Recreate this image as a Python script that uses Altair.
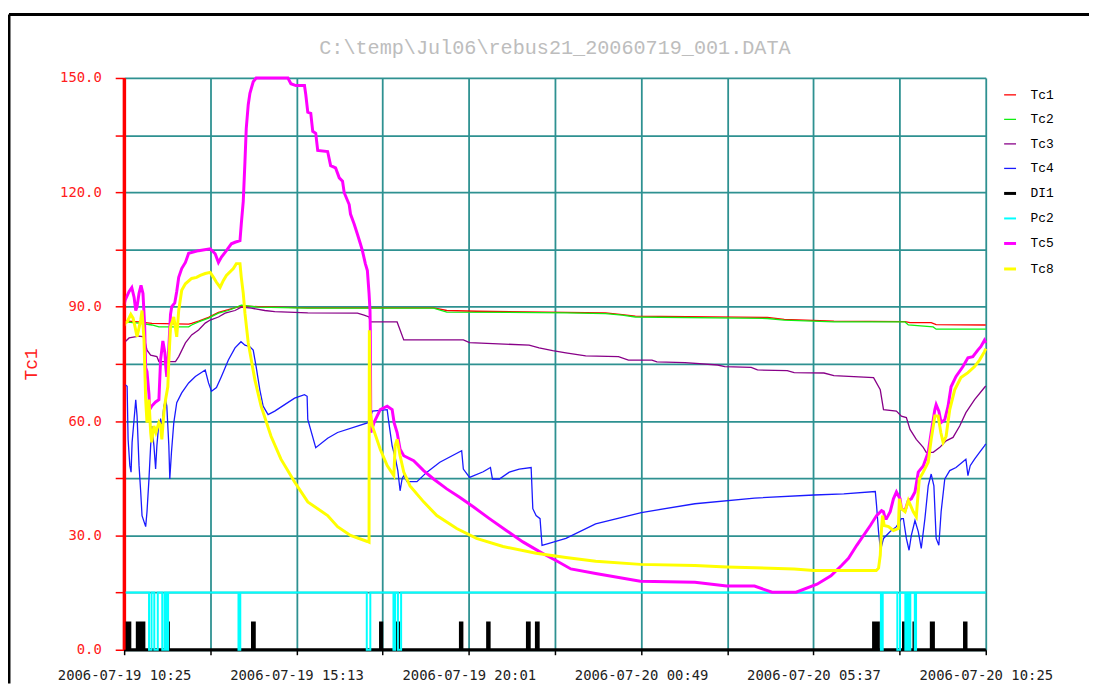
import json
import altair as alt
import pandas as pd

TITLE = "C:\\temp\\Jul06\\rebus21_20060719_001.DATA"
SERIES = ["Tc1", "Tc2", "Tc3", "Tc4", "DI1", "Pc2", "Tc5", "Tc8"]
COLORS = ["#ff0000", "#11ee11", "#880088", "#1a1aff", "#000000", "#00ffff", "#ff00ff", "#ffff00"]
WIDTHS = [1.3, 1.3, 1.3, 1.3, 3.0, 2.0, 3.0, 3.0]

# x: minutes after 2006-07-19 10:25
X_TICKS = list(range(0, 1441, 144))
X_LABELS = ["2006-07-19 10:25", "", "2006-07-19 15:13", "", "2006-07-19 20:01", "",
            "2006-07-20 00:49", "", "2006-07-20 05:37", "", "2006-07-20 10:25"]
Y_TICKS = list(range(0, 151, 15))

TC1 = [(0, 86.3), (24.9, 86), (46.5, 85.6), (107.8, 85.4), (112.8, 85.6), (124.4, 86.2), (141, 87.2),
       (157.6, 88.5), (174.2, 89.2), (195.8, 90.2), (224, 90), (306.9, 89.7), (517.1, 89.7), (539.2, 89),
       (589, 88.8), (738.3, 88.5), (804.6, 88.4), (832.3, 87.9), (854.4, 87.5), (1075, 87.2), (1103.2, 86.7),
       (1186.2, 86.2), (1305.1, 86.1), (1313.4, 85.8), (1348.8, 85.8), (1357.1, 85.3), (1440, 85.2)]

TC2 = [(0, 86), (24.9, 85.7), (46.5, 85.2), (58.1, 84.7), (107.8, 84.7), (112.8, 85.2), (124.4, 86), (141, 87),
       (157.6, 88.3), (174.2, 89), (195.8, 90.4), (224, 89.9), (306.9, 89.6), (517.1, 89.6), (539.2, 88.6),
       (738.3, 88.4), (804.6, 88.2), (832.3, 87.8), (854.4, 87.3), (1075, 86.9), (1103.2, 86.5), (1186.2, 86),
       (1305.1, 86), (1310.6, 85.2), (1352.1, 84.7), (1357.1, 84.1), (1440, 84.1)]

TC3 = [(0, 80.5), (1.7, 80.8), (8.3, 81.8), (24.9, 82.3), (33.2, 82.1), (38.2, 78.6), (44.3, 77.3), (54.7, 76.9),
       (58.1, 75.6), (85.8, 75.6), (91.2, 76.9), (102.4, 80.5), (112.8, 82.6), (124.4, 83.9), (135.5, 85.7),
       (143.8, 86.5), (157.6, 87.3), (168.7, 88.3), (185.3, 89), (195.8, 89.9), (212.4, 89.6), (235.1, 89),
       (251.7, 88.7), (306.9, 88.4), (389.9, 88.3), (401, 87.8), (409.3, 87.3), (411.4, 86), (456.2, 86),
       (467.3, 81.3), (566.9, 81.3), (577.3, 80.6), (676.9, 79.9), (693.5, 79.2), (716.2, 78.5), (738.3, 77.9),
       (771.4, 77.1), (826.2, 76.9), (842.8, 76), (882.1, 76), (890.4, 75.5), (937.3, 75.3), (992.1, 74.7),
       (1003.7, 74.3), (1048, 74.1), (1058.4, 73.4), (1108.2, 73.2), (1119.8, 72.7), (1169.6, 72.6),
       (1186.2, 71.9), (1252.5, 71.4), (1263.7, 68.2), (1269.1, 63), (1290.7, 62.6), (1299, 61.3),
       (1307.3, 60.9), (1313.4, 57.8), (1323.9, 55.2), (1335.5, 53.1), (1340.5, 51.8), (1352.1, 51.8),
       (1363.2, 53.1), (1373.7, 54.8), (1385.3, 55.7), (1396.4, 58.7), (1406.8, 62.2), (1421.3, 65.6),
       (1437.8, 68.8), (1440, 69.2)]

TC4 = [(0, 69), (1.7, 69.5), (5, 69.1), (6.6, 55.2), (9.5, 48.3), (11.6, 46.6), (13.3, 54.4), (16.6, 60.4),
       (19.4, 65.6), (21.6, 61.3), (24.9, 48.3), (27.7, 41.4), (29.9, 35.2), (33.2, 33.6), (36, 32.3),
       (38.2, 36.2), (41.5, 44.8), (44.3, 53.5), (46.5, 58.7), (49.8, 53.5), (52.6, 47.4), (54.7, 53.5),
       (58.1, 59.6), (60.9, 60.4), (63, 58.7), (66.4, 63.9), (69.2, 65.6), (71.3, 63.9), (74.7, 53.5),
       (76.3, 44.8), (79.1, 51.8), (83, 59.6), (87.9, 64.8), (96.2, 67.4), (107.8, 70), (119, 71.7),
       (135.5, 73.4), (141, 70), (146, 67.8), (154.3, 68.8), (162.6, 71.7), (174.2, 76), (185.3, 79.2),
       (195.3, 80.8), (201.9, 79.9), (210.2, 79.5), (215.7, 78.6), (220.6, 74.3), (226.8, 68.2), (232.3, 63.9),
       (240.6, 61.7), (251.7, 62.6), (268.3, 64.3), (284.9, 66), (301.4, 66.9), (305.8, 66.5), (306.9, 60.4),
       (320.2, 53), (340.1, 55.5), (356.7, 57), (406.5, 59.5), (411.4, 60.9), (414.8, 62.6), (439.6, 63),
       (442.4, 59.6), (447.9, 53.5), (452.9, 50.5), (457.4, 47), (461.2, 41.7), (464.5, 44.8), (467.3, 45.7),
       (472.8, 44.1), (489.4, 44.1), (506, 46.6), (527.6, 49.2), (564.1, 52.2), (566.9, 47.4), (577.3, 45.2),
       (600.1, 46.7), (612.2, 47.8), (615.5, 44.8), (627.1, 44.8), (643.7, 46.6), (660.3, 47.4), (680.2, 47.8),
       (683, 37), (688.5, 35.2), (695.1, 34.4), (698.4, 27.4), (710.1, 27.9), (738.3, 29.2), (788, 33),
       (864.3, 36), (953.9, 38.3), (1053.5, 39.8), (1153, 40.6), (1202.8, 40.9), (1255.4, 41.5), (1257.5, 37.8),
       (1260.8, 31), (1264.1, 26.1), (1269.1, 29.2), (1280.3, 31), (1290.7, 32.3), (1299, 34.4), (1302.3, 34.4),
       (1307.3, 29.2), (1311.8, 26.1), (1315.6, 30), (1321.7, 33.9), (1327.2, 31), (1332.2, 26.6),
       (1338.3, 34.4), (1343.8, 43), (1348.8, 46.1), (1353.3, 43), (1357.1, 29.2), (1361.6, 27.4),
       (1365.4, 36.2), (1371.5, 44.8), (1379.8, 47), (1390.3, 47.8), (1406.8, 50), (1410.2, 45.7), (1414, 48.3),
       (1421.3, 50), (1429.6, 51.8), (1437.8, 53.5), (1440, 54)]

DI1_HIGH = 7
DI1_PULSES = [(2.5, 4.5), (7, 9.5), (22, 25), (28, 33), (71.5, 74), (214.5, 217.5), (428.5, 430.5),
              (455.5, 458.5), (562, 564.5), (607.5, 610), (674, 677), (689, 692), (1252.5, 1254.5),
              (1258, 1260.5), (1302.5, 1305.5), (1320, 1322.5), (1349, 1352.5), (1404.5, 1407)]

PC2_HIGH = 15
PC2_DIPS = [(41.6, 45.8), (50.4, 56.2), (63.7, 67.7), (70.7, 73.5), (191.1, 194.1), (405.5, 411.4),
            (450.1, 452.9), (457.6, 462.9), (1264.8, 1267.8), (1292.2, 1296.7), (1305.6, 1308.3),
            (1311.4, 1313.9), (1321.4, 1323.5)]

TC5 = [(0, 90.5), (1.7, 91.7), (8.3, 94), (12.8, 95), (16.6, 92.5), (19.4, 89), (21.6, 90), (24.9, 93.5),
       (28.2, 95.6), (31.5, 93.5), (34.3, 85), (36, 74), (38.2, 73), (41.5, 67), (42.6, 63), (46.5, 64),
       (52.6, 65), (58.1, 65.6), (60.9, 76), (64.7, 81), (68, 78), (69.7, 74), (71.3, 71.6), (74.7, 79.4),
       (77.5, 88), (79.6, 90), (84.6, 91), (87.9, 94), (91.2, 97.7), (96.2, 100), (102.4, 101.6), (107.8, 104),
       (124.4, 104.7), (143.8, 105.2), (152.1, 103.9), (157.6, 101.6), (162.6, 103), (170.9, 104.7),
       (179.2, 106.5), (185.3, 106.9), (193.6, 107.3), (195.8, 111.7), (199.1, 117.7), (201.9, 128),
       (204.1, 136.8), (207.4, 143), (210.2, 146), (215.7, 149), (220.6, 150), (273.7, 150), (278.7, 148.5),
       (287, 148), (301.4, 148), (303.6, 145.6), (306.9, 141), (311.9, 140.7), (315.2, 136), (320.2, 135.5),
       (323.5, 131), (340.1, 130.7), (345.1, 127), (353.4, 126.4), (359.5, 123.8), (365, 122.9),
       (367.8, 119.9), (376.1, 116.8), (378.3, 114.3), (384.4, 111.7), (389.9, 109), (394.8, 106.5),
       (398.2, 104.7), (403.1, 101.3), (406.5, 99.5), (409.3, 93.5), (410.9, 89), (411.4, 83.8), (412.3, 57),
       (417.6, 59.6), (428, 63), (439.6, 63.9), (447.9, 63), (451.2, 59.6), (456.2, 57), (461.2, 52.6),
       (467.3, 50.9), (483.9, 49.6), (500.5, 47), (517.1, 44.8), (539.2, 42.2), (560.7, 40), (583.5, 37.5),
       (610.5, 34.4), (638.7, 31.3), (666.4, 28.3), (693.5, 25.8), (705.1, 24.8), (721.7, 23.4),
       (746.6, 21.2), (788, 20), (862.7, 18), (953.9, 17.7), (1007, 16.7), (1053.5, 16.7), (1082.8, 15.1),
       (1123.1, 15.1), (1158, 17.2), (1181.2, 19.4), (1199, 22.1), (1210.6, 24), (1224.4, 27.4),
       (1247.1, 32.6), (1257.5, 35.2), (1265.8, 36.5), (1269.1, 36.2), (1272, 34.4), (1274.1, 34.4),
       (1280.3, 36.2), (1285.7, 39.6), (1290.7, 41.4), (1296.8, 39.6), (1299, 37), (1305.1, 36.5),
       (1310.6, 39.2), (1315.6, 39.6), (1321.7, 41.4), (1327.2, 46.6), (1335.5, 48.2), (1343.8, 51.8),
       (1348.8, 57), (1354.9, 63), (1357.1, 64.3), (1361.6, 62.6), (1365.4, 59.6), (1371.5, 60.4), (1377, 63.9),
       (1382, 69), (1390.3, 71.7), (1401.9, 74.3), (1410.2, 76.6), (1418.4, 76.9), (1426.7, 78.6),
       (1431.7, 79.5), (1437.8, 81.2), (1440, 80.5)]

TC8 = [(0, 85), (1.7, 85.7), (5, 86), (11.1, 88), (14.9, 87), (18.2, 84.7), (21.6, 82.1), (27.7, 86.5),
       (29.9, 89), (33.2, 81.3), (36, 65.6), (38.2, 59.6), (41.5, 65.6), (44.3, 57), (46, 54.4), (49.8, 58.7),
       (53.1, 57), (58.1, 59.6), (60.9, 58.7), (63, 55.2), (66.4, 62.2), (69.2, 65.6), (73, 69), (74.7, 76),
       (77.5, 84.7), (83, 87.3), (87.9, 82.1), (91.2, 89), (96.2, 94.3), (102.4, 96), (112.8, 97.4),
       (121.1, 97.7), (127.2, 98.2), (135.5, 98.7), (143.8, 99), (149.3, 97.7), (154.3, 96.4), (160.4, 95.1),
       (165.9, 96.9), (170.9, 98.2), (182.5, 100), (187.5, 101.3), (193.6, 101.3), (195.8, 97.7),
       (199.1, 93.5), (201.9, 88.3), (207.4, 80.5), (218.5, 70.8), (228.9, 63.9), (245.5, 56), (262.1, 50),
       (284.9, 44), (306.9, 38.8), (340.1, 35.2), (356.7, 32.3), (378.3, 30), (406.5, 28.4), (409.3, 28.2),
       (409.8, 83.8), (411.4, 62.2), (414.8, 58.7), (428, 52.6), (439.6, 48.3), (450.7, 45.7), (452.9, 53.5),
       (456.2, 55.2), (461.2, 50.9), (467.3, 46.6), (477.8, 43), (500.5, 38.8), (522.6, 35.2), (555.8, 31.8),
       (588.9, 29.2), (633.2, 27.1), (688.5, 25.3), (738.3, 24.2), (788, 23.2), (862.7, 22.4), (953.9, 22.1),
       (1007, 21.7), (1119.8, 21.2), (1152.5, 20.8), (1257, 20.8), (1260.8, 21.4), (1263.7, 24.8),
       (1265.8, 31.8), (1267.5, 35.2), (1270.3, 32.6), (1277.4, 32.3), (1285.7, 31.3), (1294, 31.8),
       (1295.6, 39.6), (1299, 37), (1305.1, 36.2), (1310.6, 39.2), (1318.9, 36.2), (1323.9, 34.9),
       (1328.9, 44.8), (1335.5, 46.6), (1343.8, 49.2), (1348.8, 55.2), (1354.9, 61.3), (1360.4, 61.3),
       (1364.9, 57), (1368.7, 54.4), (1373.7, 56), (1379.8, 63), (1388.1, 68.2), (1398.5, 71.4),
       (1410.2, 72.7), (1421.3, 74.3), (1429.6, 76), (1437.8, 78.2), (1440, 79)]


def pulses(base, high, intervals):
    pts = [(0, base)]
    for s, e in intervals:
        pts += [(s, base), (s, high), (e, high), (e, base)]
    pts.append((1440, base))
    return pts


rows = []


def add(name, pts):
    for t, v in pts:
        rows.append({"series": name, "t": t, "v": v, "i": len(rows)})


add("Tc1", TC1)
add("Tc2", TC2)
add("Tc3", TC3)
add("Tc4", TC4)
add("DI1", pulses(0, DI1_HIGH, DI1_PULSES))
add("Pc2", pulses(PC2_HIGH, 0, PC2_DIPS))
add("Tc5", TC5)
add("Tc8", TC8)
df = pd.DataFrame(rows)

GRID = "#2e9191"
MONO = "DejaVu Sans Mono"
COURIER = "Liberation Mono"

legend_kw = dict(title=None, orient="none", legendX=885, legendY=10, symbolType="stroke",
                 symbolSize=144, labelFont=COURIER, labelFontSize=13, labelColor="black",
                 labelOffset=13, rowPadding=10.7, padding=0)

x_expr = json.dumps(X_LABELS) + "[round(datum.value/144)]"

lines = alt.Chart(df).mark_line().encode(
    x=alt.X("t:Q", scale=alt.Scale(domain=[0, 1440], nice=False, zero=False),
            axis=alt.Axis(values=X_TICKS, labelExpr=x_expr, title=None, grid=True, gridColor=GRID,
                          gridWidth=1.8, domainColor="black", domainWidth=2, tickColor="black",
                          tickWidth=1.5, tickSize=5, labelFont=MONO, labelFontSize=14,
                          labelColor="#222222", labelPadding=14, labelFlush=False,
                          labelOverlap=False, labelBound=False)),
    y=alt.Y("v:Q", scale=alt.Scale(domain=[0, 150], nice=False, zero=False),
            axis=alt.Axis(values=Y_TICKS,
                          labelExpr="datum.value % 30 == 0 ? format(datum.value, '.1f') : ''",
                          title="Tc1", titleFont=COURIER, titleFontSize=18, titleFontWeight="normal",
                          titleColor="#ff2020", titleAngle=270, titleX=-93, titleY=288,
                          titleAlign="center", titleBaseline="middle",
                          grid=True, gridColor=GRID, gridWidth=1.8, domainColor="#ff0000",
                          domainWidth=3, tickColor="#ff0000", tickWidth=1.5, tickSize=9,
                          labelFont=MONO, labelFontSize=14, labelColor="#ff2020", labelPadding=14,
                          labelOverlap=False)),
    color=alt.Color("series:N", scale=alt.Scale(domain=SERIES, range=COLORS), legend=alt.Legend(**legend_kw)),
    strokeWidth=alt.StrokeWidth("series:N", scale=alt.Scale(type="ordinal", domain=SERIES, range=WIDTHS),
                                legend=alt.Legend(**legend_kw)),
    order=alt.Order("i:Q"),
)

deco = alt.Chart(pd.DataFrame({"k": [0]}))
frame_top = deco.mark_rule(color="black", strokeWidth=3).encode(
    x=alt.value(-116), x2=alt.value(975), y=alt.value(-64))
frame_left = deco.mark_rule(color="black", strokeWidth=3).encode(
    x=alt.value(-116), y=alt.value(-64), y2=alt.value(610))
y_line = deco.mark_rule(color="#ff0000", strokeWidth=3).encode(
    x=alt.value(0), y=alt.value(0), y2=alt.value(576))
title_txt = deco.mark_text(font=COURIER, fontSize=20.3, color="#bdbdbd", align="center",
                           baseline="middle").encode(
    x=alt.value(434), y=alt.value(-30), text=alt.value(TITLE))

chart = alt.layer(frame_top, frame_left, title_txt, lines, y_line).properties(
    width=868, height=576,
    autosize=alt.AutoSizeParams(type="none"),
    padding={"left": 117, "top": 68, "right": 104, "bottom": 32},
).configure_view(stroke=None).configure(background="white").configure_legend(
    labelFont=COURIER, labelFontSize=13, labelColor="black")

chart.save("out.html", embed_options={"renderer": "svg", "actions": False})
